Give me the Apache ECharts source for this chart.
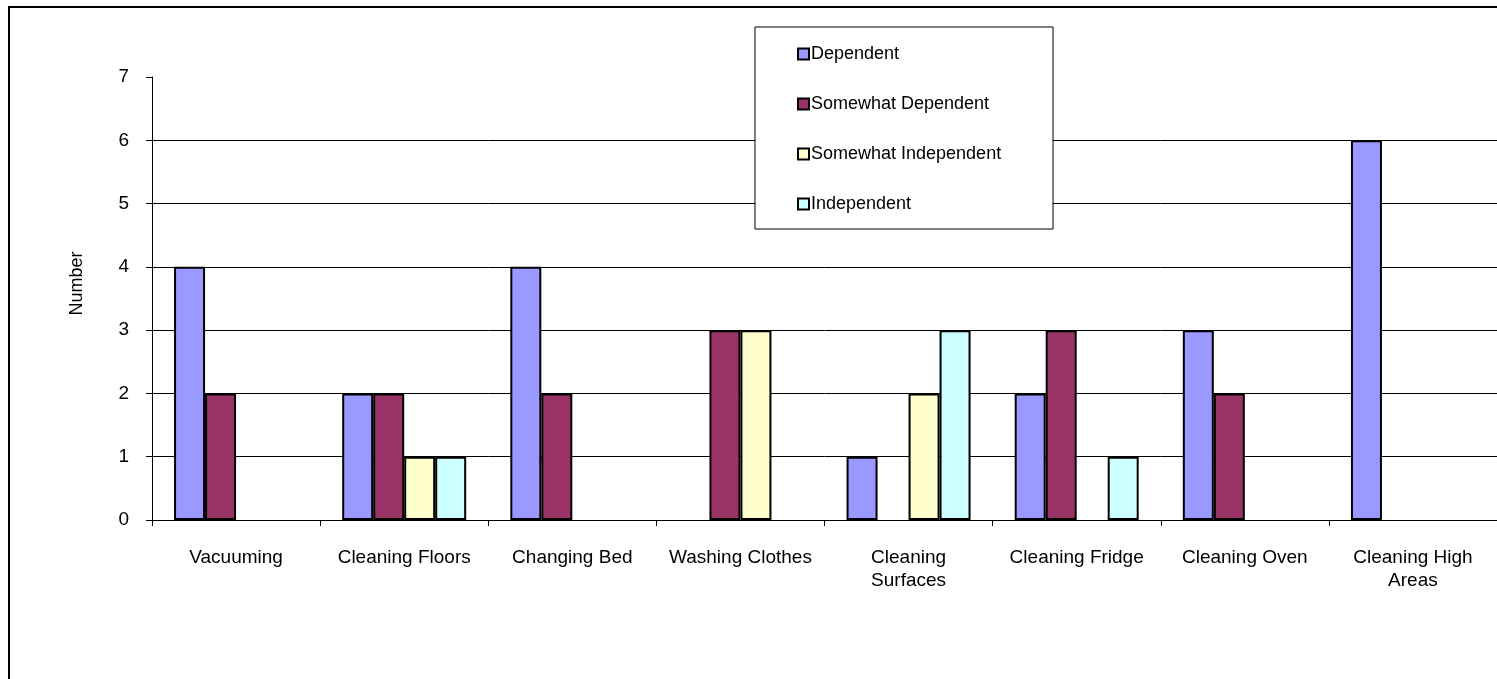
<!DOCTYPE html>
<html>
<head>
<meta charset="utf-8">
<script src="https://cdn.jsdelivr.net/npm/echarts@6/dist/echarts.min.js"></script>
<style>
  html, body { margin: 0; padding: 0; background: #fff; }
  #chart { width: 1497px; height: 679px; }
</style>
</head>
<body>
<div id="chart"></div>
<script>
// categories and values
const tasks = ["Vacuuming", "Cleaning Floors", "Changing Bed", "Washing Clothes",
  "Cleaning Surfaces", "Cleaning Fridge", "Cleaning Oven", "Cleaning High Areas"];
const taskLabels = ["Vacuuming", "Cleaning Floors", "Changing Bed", "Washing Clothes",
  "Cleaning\nSurfaces", "Cleaning Fridge", "Cleaning Oven", "Cleaning High\nAreas"];
const dependent = [4, 2, 4, 0, 1, 2, 3, 6];
const somewhatDependent = [2, 2, 2, 3, 0, 3, 2, 0];
const somewhatIndependent = [0, 1, 0, 3, 2, 0, 0, 0];
const independent = [0, 1, 0, 0, 3, 1, 0, 0];
const yTicks = [0, 1, 2, 3, 4, 5, 6, 7];

const font = "'Liberation Sans', Arial, sans-serif";
const chart = echarts.init(document.getElementById("chart"));

function bar(name, data, color) {
  return {
    name: name,
    type: "bar",
    // zero counts draw no bar (avoids a border stub on the axis)
    data: data.map(v => (v === 0 ? "-" : v)),
    barWidth: 31,
    barGap: "0%",
    itemStyle: { color: color, borderColor: "#000", borderWidth: 2 },
    emphasis: { disabled: true }
  };
}

chart.setOption({
  animation: false,
  textStyle: { fontFamily: font },
  graphic: [
    // outer chart frame
    { type: "rect", shape: { x: 9, y: 7, width: 1600, height: 800 },
      style: { fill: "none", stroke: "#000", lineWidth: 2 }, z: -1 },
    // legend box
    { type: "rect", shape: { x: 755, y: 27, width: 298, height: 202 },
      style: { fill: "#fff", stroke: "#000", lineWidth: 1 }, z: 5 }
  ],
  grid: { left: 152, top: 77, width: 1350, height: 443, containLabel: false },
  legend: {
    orient: "vertical",
    left: 792,
    top: 40,
    z: 6,
    itemWidth: 11,
    itemHeight: 11,
    itemGap: 32,
    icon: "rect",
    textStyle: { fontSize: 18, color: "#000", fontFamily: font, padding: [0, 0, 0, -3] },
    data: ["Dependent", "Somewhat Dependent", "Somewhat Independent", "Independent"]
  },
  xAxis: {
    type: "category",
    data: tasks,
    axisLine: { lineStyle: { color: "#000", width: 1 } },
    axisTick: { show: true, length: 6, lineStyle: { color: "#000" } },
    axisLabel: {
      interval: 0,
      margin: 26,
      fontSize: 19,
      lineHeight: 23,
      color: "#000",
      formatter: function (v, i) { return taskLabels[i]; }
    }
  },
  yAxis: {
    type: "value",
    min: 0,
    max: 7,
    interval: 1,
    name: "Number",
    nameLocation: "middle",
    nameRotate: 90,
    nameGap: 66,
    nameTextStyle: { fontSize: 18, color: "#000", padding: [0, 0, 0, 30] },
    axisLine: { show: true, lineStyle: { color: "#000", width: 1 } },
    axisTick: { show: true, length: 6, lineStyle: { color: "#000" } },
    axisLabel: {
      fontSize: 19, color: "#000", margin: 23,
      formatter: function (v) { return yTicks.indexOf(v) >= 0 ? String(v) : ""; }
    },
    splitLine: {
      show: true,
      lineStyle: { color: ["#000", "#000", "#000", "#000", "#000", "#000", "#000", "rgba(0,0,0,0)"], width: 1 }
    }
  },
  series: [
    bar("Dependent", dependent, "#9999FF"),
    bar("Somewhat Dependent", somewhatDependent, "#993366"),
    bar("Somewhat Independent", somewhatIndependent, "#FFFFCC"),
    bar("Independent", independent, "#CCFFFF")
  ]
});
</script>
</body>
</html>
